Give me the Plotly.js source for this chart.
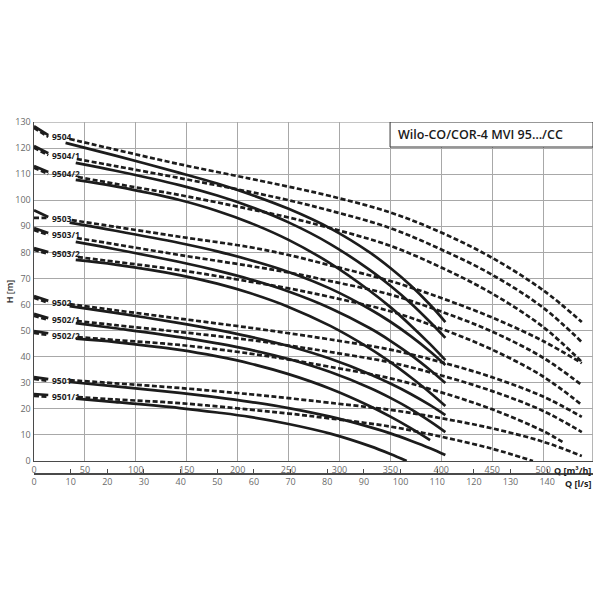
<!DOCTYPE html>
<html>
<head>
<meta charset="utf-8">
<script src="https://cdn.plot.ly/plotly-3.0.1.min.js"></script>
<style>html,body{margin:0;padding:0;background:#fff;}#chart{width:600px;height:600px;}</style>
</head>
<body>
<div id="chart"></div>
<script>
// Pump types (curve labels)
const pumps = ['9504','9504/1','9504/2','9503','9503/1','9503/2','9502','9502/1','9502/2','9501','9501/1'];

// Solid curves: Q [m³/h], H [m]  (null = gap behind the label)
const s9504q   = [0,14,null,31,80,143,180,212,250,291,330,350,370,389,404];
const s9504h   = [128.4,125.0,null,122.0,117.1,110.5,106.4,102.3,96.7,89.2,79.9,74.0,67.3,59.9,53.3];
const s9504_1q = [0,14,null,41,80,143,180,212,250,291,330,350,370,389,404];
const s9504_1h = [120.8,118.0,null,114.3,111.3,105.8,101.8,97.6,91.5,83.2,73.2,67.2,60.5,53.3,47.2];
const s9504_2q = [0,14,null,41,80,143,180,212,250,291,330,350,370,389,404];
const s9504_2h = [113.1,110.8,null,107.8,105.3,100.1,95.9,91.4,84.8,75.8,65.2,59.0,52.0,44.8,38.7];
const s9503q   = [0,14,null,35,80,143,180,212,250,291,330,350,370,389,404];
const s9503h   = [96.2,93.6,null,91.4,88.3,83.6,80.4,77.1,72.5,66.1,58.2,53.4,47.9,42.0,36.8];
const s9503_1q = [0,14,null,41,80,143,180,212,250,291,330,350,370,389,404];
const s9503_1h = [89.3,87.4,null,84.0,81.2,76.3,73.0,69.7,65.0,58.6,50.9,46.1,40.7,34.9,29.9];
const s9503_2q = [0,14,null,41,80,143,180,212,250,291,330,350,370,389,404];
const s9503_2h = [81.7,80.1,null,77.1,75.3,71.3,68.0,64.4,59.1,51.8,43.1,37.9,32.1,26.2,21.1];
const s9502q   = [0,14,null,35,80,143,180,212,250,291,330,350,370,389,404];
const s9502h   = [63.3,61.4,null,59.4,56.8,52.9,50.3,47.7,44.1,39.2,33.3,29.7,25.7,21.4,17.6];
const s9502_1q = [0,14,null,41,80,143,180,212,250,291,330,350,370,389,404];
const s9502_1h = [56.4,54.8,null,52.9,50.9,47.5,45.1,42.7,39.1,34.1,28.0,24.2,19.9,15.2,11.1];
const s9502_2q = [0,14,null,41,80,143,180,212,250,291,330,350,370,389];
const s9502_2h = [49.8,49.0,null,46.9,45.6,42.6,40.1,37.4,33.3,27.7,21.0,17.0,12.6,8.0];
const s9501q   = [0,14,null,35,80,143,180,212,250,291,330,350,370,389,404];
const s9501h   = [32.2,31.4,null,30.3,28.6,26.1,24.4,22.7,20.3,17.0,13.0,10.6,7.8,4.9,2.3];
const s9501_1q = [0,14,null,41,80,143,180,212,250,291,330,350,366];
const s9501_1h = [25.7,25.3,null,23.9,22.6,20.3,18.6,16.9,14.2,10.5,5.7,2.7,0];

// Dashed curves: Q [m³/h], H [m]
const d9504q   = [0,14,null,35,80,143,212,250,291,350,400,450,500,538];
const d9504h   = [127.7,124.3,null,123.5,119.4,113.8,108.3,105.2,101.6,95.3,87.6,77.9,65.5,53.3];
const d9504_1q = [0,14,null,42,80,143,212,250,291,350,400,450,500,538];
const d9504_1h = [120.1,117.3,null,115.8,113.1,108.5,103.2,100.0,96.0,89.3,81.1,71.4,58.8,45.6];
const d9504_2q = [0,14,null,43,80,143,212,250,291,350,400,450,500,538];
const d9504_2h = [112.4,110.1,null,108.9,106.3,102.0,96.6,93.4,89.3,82.5,74.2,64.2,51.4,38.0];
const d9503q   = [0,14,null,37,80,143,212,250,291,350,400,450,500,538];
const d9503h   = [93.2,93.2,null,92.4,89.8,86.0,82.0,79.0,75.0,69.0,62.5,55.0,46.0,37.5];
const d9503_1q = [0,14,null,42,80,143,212,250,291,350,400,450,500,538];
const d9503_1h = [88.6,86.7,null,85.5,83.1,79.0,74.8,72.3,69.0,63.8,57.3,49.6,39.6,29.1];
const d9503_2q = [0,14,null,43,80,143,212,250,291,350,400,450,500,538];
const d9503_2h = [81.0,79.4,null,78.2,76.4,73.2,68.8,66.2,62.9,57.4,50.7,42.7,32.4,21.5];
const d9502q   = [0,14,null,35,80,143,212,250,291,350,400,450,500,538];
const d9502h   = [62.6,60.7,null,60.2,57.8,54.6,51.1,49.0,46.6,42.7,37.9,32.1,24.7,16.9];
const d9502_1q = [0,14,null,42,80,143,212,250,291,350,400,450,500,538];
const d9502_1h = [55.7,54.1,null,53.7,52.1,49.5,46.4,44.3,41.8,37.8,32.8,26.8,19.2,11.1];
const d9502_2q = [0,14,null,43,80,143,212,250,291,350,400,450,500,519];
const d9502_2h = [49.1,48.3,null,47.5,46.4,44.5,41.2,38.9,36.1,31.7,26.3,19.8,11.5,7.3];
const d9501q   = [0,14,null,35,80,143,212,250,291,350,400,450,500,538];
const d9501h   = [31.5,30.7,null,31.0,29.8,28.0,25.6,24.1,22.3,19.6,16.4,12.5,7.4,1.9];
const d9501_1q = [0,14,null,43,80,143,212,250,291,350,400,450,490];
const d9501_1h = [25.0,24.6,null,24.5,23.6,22.2,19.7,18.2,16.3,13.2,9.3,4.7,0];

// Axis ticks
const qTicks  = [0,50,100,150,200,250,300,350,400,450,500];
const lsTicks = [0,10,20,30,40,50,60,70,80,90,100,110,120,130,140];
const hTicks  = [0,10,20,30,40,50,60,70,80,90,100,110,120,130];

const solids = [[s9504q,s9504h],[s9504_1q,s9504_1h],[s9504_2q,s9504_2h],[s9503q,s9503h],[s9503_1q,s9503_1h],[s9503_2q,s9503_2h],[s9502q,s9502h],[s9502_1q,s9502_1h],[s9502_2q,s9502_2h],[s9501q,s9501h],[s9501_1q,s9501_1h]];
const dashes = [[d9504q,d9504h],[d9504_1q,d9504_1h],[d9504_2q,d9504_2h],[d9503q,d9503h],[d9503_1q,d9503_1h],[d9503_2q,d9503_2h],[d9502q,d9502h],[d9502_1q,d9502_1h],[d9502_2q,d9502_2h],[d9501q,d9501h],[d9501_1q,d9501_1h]];

const INK = '#1c1c1c';
const traces = [];
dashes.forEach(function(c){
  traces.push({x:c[0], y:c[1], type:'scatter', mode:'lines', connectgaps:false, hoverinfo:'skip',
    line:{color:INK, width:2.7, dash:'5px,2.5px', shape:'spline', smoothing:1}});
});
solids.forEach(function(c){
  traces.push({x:c[0], y:c[1], type:'scatter', mode:'lines', connectgaps:false, hoverinfo:'skip',
    line:{color:INK, width:2.7, shape:'spline', smoothing:1}});
});
// carrier for the l/s axis
traces.push({x:[0,152.5], y:[null,null], xaxis:'x2', yaxis:'y', type:'scatter', mode:'lines', hoverinfo:'skip', showlegend:false});

const tickFont = {family:'Open Sans, sans-serif', size:9, color:'#6a6a6a'};
const annotations = pumps.map(function(p,i){
  return {x:15.5, y:solids[i][1][1]-0.7, xref:'x', yref:'y', text:p, showarrow:false,
    xanchor:'left', yanchor:'middle', font:{family:'Open Sans, sans-serif', size:8.5, color:INK, weight:700}};
});
annotations.push({x:355.5, y:125.2, xref:'x', yref:'y', text:'Wilo-CO/COR-4 MVI 95…/CC', showarrow:false,
  xanchor:'left', yanchor:'middle', font:{family:'Open Sans, sans-serif', size:12.5, color:'#1a1a1a', weight:600}});
annotations.push({x:1, y:0.0342, xref:'paper', yref:'paper', text:'Q [m³/h]', showarrow:false,
  xanchor:'right', yanchor:'top', yshift:-1, font:{family:'Open Sans, sans-serif', size:9, color:'#222', weight:700}});
annotations.push({x:1, y:0, xref:'paper', yref:'paper', text:'Q [l/s]', showarrow:false,
  xanchor:'right', yanchor:'top', yshift:-2, font:{family:'Open Sans, sans-serif', size:9, color:'#222', weight:700}});

const layout = {
  width:600, height:600,
  margin:{l:34, r:7, t:122, b:127, pad:0},
  paper_bgcolor:'#ffffff', plot_bgcolor:'#ffffff',
  showlegend:false,
  xaxis:{range:[0,549], tickvals:qTicks, showgrid:true, gridcolor:'#a8a8a8', gridwidth:1,
    zeroline:false, showline:true, linecolor:'#4a4a4a', linewidth:1.5, ticks:'', tickfont:tickFont,
    anchor:'y', domain:[0,1]},
  xaxis2:{overlaying:'x', anchor:'free', position:0, range:[0,152.5], tickvals:lsTicks,
    showgrid:false, zeroline:false, showline:true, linecolor:'#4a4a4a', linewidth:1.5,
    ticks:'inside', ticklen:4, tickcolor:'#4a4a4a', tickfont:tickFont, side:'bottom'},
  yaxis:{range:[0,130], tickvals:hTicks, domain:[0.0342,1], showgrid:true, gridcolor:'#a8a8a8', gridwidth:1,
    zeroline:false, showline:true, linecolor:'#4a4a4a', linewidth:1.5, ticks:'', tickfont:tickFont,
    title:{text:'H [m]', font:{family:'Open Sans, sans-serif', size:9, color:'#333', weight:600}, standoff:0}},
  shapes:[
    {type:'line', xref:'x', yref:'y', x0:0, x1:549, y0:130, y1:130, line:{color:'#8a8a8a', width:1}, layer:'below'},
    {type:'line', xref:'x', yref:'y', x0:549, x1:549, y0:0, y1:130, line:{color:'#6a6a6a', width:1}, layer:'below'},
    {type:'rect', xref:'x', yref:'y', x0:349.7, x1:549, y0:120.4, y1:130, fillcolor:'#ffffff', line:{color:'#333', width:1}, layer:'above'}
  ],
  annotations:annotations
};

Plotly.newPlot('chart', traces, layout, {staticPlot:true, displayModeBar:false});
</script>
</body>
</html>
